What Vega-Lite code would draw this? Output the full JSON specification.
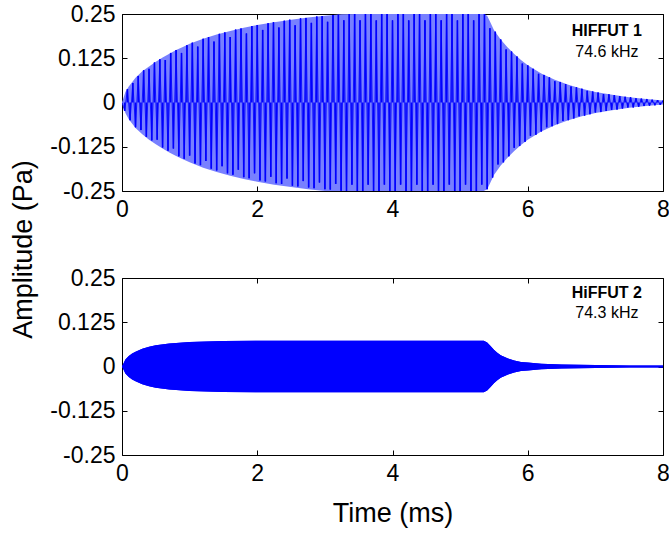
{
"$schema": "https://vega.github.io/schema/vega-lite/v6.json",
"background": "white",
"padding": {"left": 9, "top": 3, "right": 5, "bottom": 5},
"config": {
  "font": "Liberation Sans",
  "view": {"stroke": null},
  "axis": {"grid": false, "domainColor": "black", "domainWidth": 1, "tickColor": "black", "tickWidth": 1, "labelColor": "black", "labelFont": "Liberation Sans", "labelFontSize": 23, "titleFont": "Liberation Sans", "titleFontSize": 27, "titleFontWeight": "normal", "titleColor": "black", "labelFlush": false, "labelOverlap": false}
},
"datasets": {
  "env1": [
    {"t":0,"hi":0,"lo":0},{"t":0.05,"hi":0.03,"lo":-0.03},{"t":0.1,"hi":0.045,"lo":-0.047},{"t":0.2,"hi":0.07,"lo":-0.072},{"t":0.3,"hi":0.088,"lo":-0.09},{"t":0.4,"hi":0.102,"lo":-0.105},{"t":0.5,"hi":0.115,"lo":-0.118},{"t":0.6,"hi":0.127,"lo":-0.13},{"t":0.7,"hi":0.138,"lo":-0.141},{"t":0.8,"hi":0.148,"lo":-0.151},{"t":0.9,"hi":0.157,"lo":-0.16},{"t":1.0,"hi":0.166,"lo":-0.169},{"t":1.2,"hi":0.18,"lo":-0.184},{"t":1.4,"hi":0.192,"lo":-0.196},{"t":1.6,"hi":0.202,"lo":-0.207},{"t":1.8,"hi":0.211,"lo":-0.216},{"t":2.0,"hi":0.219,"lo":-0.224},{"t":2.25,"hi":0.227,"lo":-0.232},{"t":2.5,"hi":0.234,"lo":-0.239},{"t":2.75,"hi":0.24,"lo":-0.245},{"t":3.0,"hi":0.245,"lo":-0.25},{"t":3.25,"hi":0.249,"lo":-0.25},{"t":3.5,"hi":0.25,"lo":-0.25},{"t":5.35,"hi":0.25,"lo":-0.25},{"t":5.4,"hi":0.245,"lo":-0.245},{"t":5.45,"hi":0.225,"lo":-0.225},{"t":5.5,"hi":0.205,"lo":-0.205},{"t":5.6,"hi":0.178,"lo":-0.178},{"t":5.7,"hi":0.156,"lo":-0.156},{"t":5.8,"hi":0.137,"lo":-0.137},{"t":5.9,"hi":0.12,"lo":-0.12},{"t":6.0,"hi":0.105,"lo":-0.105},{"t":6.2,"hi":0.082,"lo":-0.082},{"t":6.4,"hi":0.064,"lo":-0.064},{"t":6.6,"hi":0.05,"lo":-0.05},{"t":6.8,"hi":0.039,"lo":-0.039},{"t":7.0,"hi":0.03,"lo":-0.03},{"t":7.25,"hi":0.022,"lo":-0.022},{"t":7.5,"hi":0.015,"lo":-0.015},{"t":7.75,"hi":0.01,"lo":-0.01},{"t":8.0,"hi":0.006,"lo":-0.006}
  ],
  "zig1": [
    {"t":0,"a":0},{"t":0.04,"a":-0.024},{"t":0.08,"a":0.038},{"t":0.12,"a":-0.05},{"t":0.16,"a":0.055},{"t":0.2,"a":-0.07},{"t":0.24,"a":0.075},{"t":0.28,"a":-0.078},{"t":0.32,"a":0.091},{"t":0.36,"a":-0.097},
    {"t":0.4,"a":0.095},{"t":0.44,"a":-0.107},{"t":0.48,"a":0.113},{"t":0.52,"a":-0.105},{"t":0.56,"a":0.122},{"t":0.6,"a":-0.127},{"t":0.64,"a":0.12},{"t":0.68,"a":-0.136},{"t":0.72,"a":0.14},{"t":0.76,"a":-0.13},
    {"t":0.8,"a":0.148},{"t":0.84,"a":-0.152},{"t":0.88,"a":0.14},{"t":0.92,"a":-0.159},{"t":0.96,"a":0.162},{"t":1.0,"a":-0.15},{"t":1.04,"a":0.169},{"t":1.08,"a":-0.172},{"t":1.12,"a":0.158},{"t":1.16,"a":-0.177},
    {"t":1.2,"a":0.18},{"t":1.24,"a":-0.165},{"t":1.28,"a":0.185},{"t":1.32,"a":-0.187},{"t":1.36,"a":0.172},{"t":1.4,"a":-0.192},{"t":1.44,"a":0.194},{"t":1.48,"a":-0.18},{"t":1.52,"a":0.198},{"t":1.56,"a":-0.2},
    {"t":1.6,"a":0.185},{"t":1.64,"a":-0.204},{"t":1.68,"a":0.206},{"t":1.72,"a":-0.19},{"t":1.76,"a":0.209},{"t":1.8,"a":-0.211},{"t":1.84,"a":0.195},{"t":1.88,"a":-0.214},{"t":1.92,"a":0.216},{"t":1.96,"a":-0.2},
    {"t":2.0,"a":0.219},{"t":2.04,"a":-0.22},{"t":2.08,"a":0.205},{"t":2.12,"a":-0.223},{"t":2.16,"a":0.224},{"t":2.2,"a":-0.21},{"t":2.24,"a":0.227},{"t":2.28,"a":-0.228},{"t":2.32,"a":0.212},{"t":2.36,"a":-0.23},
    {"t":2.4,"a":0.231},{"t":2.44,"a":-0.215},{"t":2.48,"a":0.234},{"t":2.52,"a":-0.235},{"t":2.56,"a":0.218},{"t":2.6,"a":-0.237},{"t":2.64,"a":0.238},{"t":2.68,"a":-0.222},{"t":2.72,"a":0.239},{"t":2.76,"a":-0.24},
    {"t":2.8,"a":0.225},{"t":2.84,"a":-0.242},{"t":2.88,"a":0.243},{"t":2.92,"a":-0.226},{"t":2.96,"a":0.244},{"t":3.0,"a":-0.245},{"t":3.04,"a":0.228},{"t":3.08,"a":-0.246},{"t":3.12,"a":0.247},{"t":3.16,"a":-0.23},
    {"t":3.2,"a":0.248},{"t":3.24,"a":-0.249},{"t":3.28,"a":0.232},{"t":3.32,"a":-0.25},{"t":3.36,"a":0.25},{"t":3.4,"a":-0.232},{"t":3.44,"a":0.25},{"t":3.48,"a":-0.25},{"t":3.52,"a":0.232},{"t":3.56,"a":-0.25},
    {"t":3.6,"a":0.25},{"t":3.64,"a":-0.232},{"t":3.68,"a":0.25},{"t":3.72,"a":-0.25},{"t":3.76,"a":0.232},{"t":3.8,"a":-0.25},{"t":3.84,"a":0.25},{"t":3.88,"a":-0.232},{"t":3.92,"a":0.25},{"t":3.96,"a":-0.25},
    {"t":4.0,"a":0.232},{"t":4.04,"a":-0.25},{"t":4.08,"a":0.25},{"t":4.12,"a":-0.232},{"t":4.16,"a":0.25},{"t":4.2,"a":-0.25},{"t":4.24,"a":0.232},{"t":4.28,"a":-0.25},{"t":4.32,"a":0.25},{"t":4.36,"a":-0.232},
    {"t":4.4,"a":0.25},{"t":4.44,"a":-0.25},{"t":4.48,"a":0.232},{"t":4.52,"a":-0.25},{"t":4.56,"a":0.25},{"t":4.6,"a":-0.232},{"t":4.64,"a":0.25},{"t":4.68,"a":-0.25},{"t":4.72,"a":0.232},{"t":4.76,"a":-0.25},
    {"t":4.8,"a":0.25},{"t":4.84,"a":-0.232},{"t":4.88,"a":0.25},{"t":4.92,"a":-0.25},{"t":4.96,"a":0.232},{"t":5.0,"a":-0.25},{"t":5.04,"a":0.25},{"t":5.08,"a":-0.232},{"t":5.12,"a":0.25},{"t":5.16,"a":-0.25},
    {"t":5.2,"a":0.232},{"t":5.24,"a":-0.25},{"t":5.28,"a":0.25},{"t":5.32,"a":-0.232},{"t":5.36,"a":0.25},{"t":5.4,"a":-0.245},{"t":5.44,"a":0.21},{"t":5.48,"a":-0.212},{"t":5.52,"a":0.2},{"t":5.56,"a":-0.175},
    {"t":5.6,"a":0.178},{"t":5.64,"a":-0.169},{"t":5.68,"a":0.15},{"t":5.72,"a":-0.152},{"t":5.76,"a":0.144},{"t":5.8,"a":-0.128},{"t":5.84,"a":0.13},{"t":5.88,"a":-0.123},{"t":5.92,"a":0.11},{"t":5.96,"a":-0.111},
    {"t":6.0,"a":0.105},{"t":6.04,"a":-0.094},{"t":6.08,"a":0.095},{"t":6.12,"a":-0.091},{"t":6.16,"a":0.081},{"t":6.2,"a":-0.082},{"t":6.24,"a":0.078},{"t":6.28,"a":-0.07},{"t":6.32,"a":0.071},{"t":6.36,"a":-0.067},
    {"t":6.4,"a":0.06},{"t":6.44,"a":-0.061},{"t":6.48,"a":0.058},{"t":6.52,"a":-0.052},{"t":6.56,"a":0.052},{"t":6.6,"a":-0.05},{"t":6.64,"a":0.045},{"t":6.68,"a":-0.045},{"t":6.72,"a":0.043},{"t":6.76,"a":-0.039},
    {"t":6.8,"a":0.039},{"t":6.84,"a":-0.037},{"t":6.88,"a":0.033},{"t":6.92,"a":-0.033},{"t":6.96,"a":0.031},{"t":7.0,"a":-0.028},{"t":7.04,"a":0.028},{"t":7.08,"a":-0.027},{"t":7.12,"a":0.024},{"t":7.16,"a":-0.024},
    {"t":7.2,"a":0.023},{"t":7.24,"a":-0.021},{"t":7.28,"a":0.021},{"t":7.32,"a":-0.02},{"t":7.36,"a":0.018},{"t":7.4,"a":-0.017},{"t":7.44,"a":0.016},{"t":7.48,"a":-0.014},{"t":7.52,"a":0.015},{"t":7.56,"a":-0.014},
    {"t":7.6,"a":0.012},{"t":7.64,"a":-0.012},{"t":7.68,"a":0.011},{"t":7.72,"a":-0.01},{"t":7.76,"a":0.01},{"t":7.8,"a":-0.009},{"t":7.84,"a":0.008},{"t":7.88,"a":-0.008},{"t":7.92,"a":0.007},{"t":7.96,"a":-0.007},
    {"t":8.0,"a":0.006}
  ],
  "env2": [
    {"t":0,"hi":0,"lo":0},{"t":0.05,"hi":0.02,"lo":-0.02},{"t":0.1,"hi":0.03,"lo":-0.03},{"t":0.15,"hi":0.037,"lo":-0.037},{"t":0.2,"hi":0.042,"lo":-0.042},{"t":0.3,"hi":0.05,"lo":-0.05},{"t":0.4,"hi":0.056,"lo":-0.056},{"t":0.5,"hi":0.06,"lo":-0.06},{"t":0.7,"hi":0.065,"lo":-0.065},{"t":1.0,"hi":0.069,"lo":-0.069},{"t":1.5,"hi":0.072,"lo":-0.072},{"t":2.0,"hi":0.073,"lo":-0.073},{"t":3.0,"hi":0.073,"lo":-0.073},{"t":4.0,"hi":0.073,"lo":-0.073},{"t":5.0,"hi":0.073,"lo":-0.073},{"t":5.35,"hi":0.073,"lo":-0.073},{"t":5.4,"hi":0.068,"lo":-0.068},{"t":5.45,"hi":0.058,"lo":-0.058},{"t":5.5,"hi":0.047,"lo":-0.047},{"t":5.55,"hi":0.039,"lo":-0.039},{"t":5.6,"hi":0.032,"lo":-0.032},{"t":5.7,"hi":0.023,"lo":-0.023},{"t":5.8,"hi":0.017,"lo":-0.017},{"t":5.9,"hi":0.013,"lo":-0.013},{"t":6.0,"hi":0.011,"lo":-0.011},{"t":6.2,"hi":0.008,"lo":-0.008},{"t":6.5,"hi":0.006,"lo":-0.006},{"t":7.0,"hi":0.004,"lo":-0.004},{"t":7.5,"hi":0.003,"lo":-0.003},{"t":8.0,"hi":0.003,"lo":-0.003}
  ]
},
"vconcat": [
  {
    "width": 541, "height": 177,
    "layer": [
      {"data": {"name": "env1"}, "mark": {"type": "area", "color": "#7880ff", "clip": true},
       "encoding": {
         "x": {"field": "t", "type": "quantitative", "scale": {"domain": [0, 8], "nice": false},
               "axis": {"orient": "bottom", "values": [0, 2, 4, 6, 8], "tickSize": -5, "labelPadding": 12, "title": null, "labelExpr": "'' + datum.value"}},
         "y": {"field": "hi", "type": "quantitative", "scale": {"domain": [-0.25, 0.25], "nice": false},
               "axis": {"orient": "left", "values": [-0.25, -0.125, 0, 0.125, 0.25], "tickSize": -5, "labelPadding": 12, "labelExpr": "'' + datum.value",
                        "title": "Amplitude (Pa)", "titleX": -99, "titleY": 235, "titleAngle": 270, "titleAlign": "center", "titleBaseline": "middle"}},
         "y2": {"field": "lo"}
       }},
      {"data": {"name": "zig1"}, "mark": {"type": "rule", "color": "#0000ff", "strokeWidth": 1.6, "clip": true},
       "encoding": {
         "x": {"field": "t", "type": "quantitative", "axis": null},
         "y": {"field": "a", "type": "quantitative", "axis": null},
         "y2": {"datum": 0}
       }},
      {"data": {"name": "zig1"}, "mark": {"type": "line", "color": "#0000ff", "strokeWidth": 0.8, "clip": true},
       "encoding": {
         "x": {"field": "t", "type": "quantitative", "axis": {"orient": "top", "values": [0, 2, 4, 6, 8], "tickSize": -5, "labels": false, "title": null}},
         "y": {"field": "a", "type": "quantitative", "axis": {"orient": "right", "values": [-0.25, -0.125, 0, 0.125, 0.25], "tickSize": -5, "labels": false, "title": null}}
       }},
      {"data": {"values": [{}]}, "mark": {"type": "text", "font": "Liberation Sans", "fontSize": 16, "fontWeight": "bold", "align": "center", "baseline": "alphabetic", "color": "black"},
       "encoding": {"x": {"datum": 7.17, "type": "quantitative", "axis": null}, "y": {"datum": 0.188, "type": "quantitative", "axis": null}, "text": {"value": "HIFFUT 1"}}},
      {"data": {"values": [{}]}, "mark": {"type": "text", "font": "Liberation Sans", "fontSize": 16, "align": "center", "baseline": "alphabetic", "color": "black"},
       "encoding": {"x": {"datum": 7.17, "type": "quantitative", "axis": null}, "y": {"datum": 0.129, "type": "quantitative", "axis": null}, "text": {"value": "74.6 kHz"}}}
    ],
    "resolve": {"axis": {"x": "independent", "y": "independent"}}
  },
  {
    "width": 541, "height": 177,
    "layer": [
      {"data": {"name": "env2"}, "mark": {"type": "area", "color": "#0000ff", "clip": true},
       "encoding": {
         "x": {"field": "t", "type": "quantitative", "scale": {"domain": [0, 8], "nice": false},
               "axis": {"orient": "bottom", "values": [0, 2, 4, 6, 8], "tickSize": -5, "labelPadding": 12, "labelExpr": "'' + datum.value", "title": "Time (ms)", "titlePadding": 15}},
         "y": {"field": "hi", "type": "quantitative", "scale": {"domain": [-0.25, 0.25], "nice": false},
               "axis": {"orient": "left", "values": [-0.25, -0.125, 0, 0.125, 0.25], "tickSize": -5, "labelPadding": 12, "labelExpr": "'' + datum.value", "title": null}},
         "y2": {"field": "lo"}
       }},
      {"data": {"name": "env2"}, "mark": {"type": "area", "color": "#0000ff", "clip": true},
       "encoding": {
         "x": {"field": "t", "type": "quantitative", "axis": {"orient": "top", "values": [0, 2, 4, 6, 8], "tickSize": -5, "labels": false, "title": null}},
         "y": {"field": "hi", "type": "quantitative", "axis": {"orient": "right", "values": [-0.25, -0.125, 0, 0.125, 0.25], "tickSize": -5, "labels": false, "title": null}},
         "y2": {"field": "lo"}
       }},
      {"data": {"values": [{}]}, "mark": {"type": "text", "font": "Liberation Sans", "fontSize": 16, "fontWeight": "bold", "align": "center", "baseline": "alphabetic", "color": "black"},
       "encoding": {"x": {"datum": 7.17, "type": "quantitative", "axis": null}, "y": {"datum": 0.193, "type": "quantitative", "axis": null}, "text": {"value": "HiFFUT 2"}}},
      {"data": {"values": [{}]}, "mark": {"type": "text", "font": "Liberation Sans", "fontSize": 16, "align": "center", "baseline": "alphabetic", "color": "black"},
       "encoding": {"x": {"datum": 7.17, "type": "quantitative", "axis": null}, "y": {"datum": 0.136, "type": "quantitative", "axis": null}, "text": {"value": "74.3 kHz"}}}
    ],
    "resolve": {"axis": {"x": "independent", "y": "independent"}}
  }
],
"spacing": 87,
"bounds": "flush"
}
